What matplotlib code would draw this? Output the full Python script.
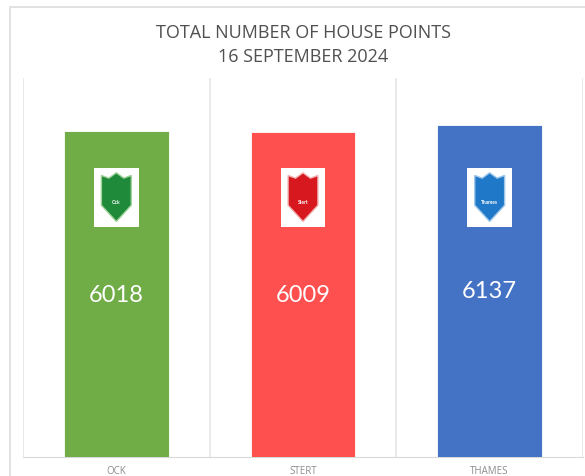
import matplotlib
matplotlib.use('Agg')
import matplotlib.pyplot as plt
from matplotlib.patches import Rectangle, Polygon

houses = ['OCK', 'STERT', 'THAMES']
points = [6018, 6009, 6137]
bar_colors = ['#70AD47', '#FF5050', '#4472C4']
badge_colors = ['#1e8a3a', '#d7191f', '#1f78c8']
badge_edges = ['#9fd39a', '#f2b3b3', '#9cc7ea']
badge_names = ['Ock', 'Stert', 'Thames']

plt.rcParams['font.family'] = ['Lato', 'DejaVu Sans']

fig = plt.figure(figsize=(5.85, 4.77), dpi=100)
ax = fig.add_axes([23 / 585, 19 / 477, 560 / 585, 379 / 477])

x = list(range(len(houses)))
ax.bar(x, points, width=0.56, color=bar_colors, edgecolor='white',
       linewidth=0.6, zorder=3)

ax.set_xlim(-0.5, 2.5)
ax.set_ylim(0, 7000)

# category separators like the Excel gridlines
for b in [-0.5, 0.5, 1.5, 2.5]:
    ax.axvline(b, color='#e6e6e6', linewidth=1.2, zorder=1)

for i, v in enumerate(points):
    ax.text(i, v / 2, str(v), ha='center', va='center', color='white',
            fontsize=17, zorder=5)
    # simple badge in place of the house logo
    ax.add_patch(Rectangle((i - 0.12, 4250), 0.24, 1080, facecolor='white',
                           edgecolor='none', zorder=4))
    shield = [(i - 0.08, 5200), (i - 0.04, 5150), (i, 5250), (i + 0.04, 5150),
              (i + 0.08, 5200), (i + 0.08, 4650), (i, 4350), (i - 0.08, 4650)]
    ax.add_patch(Polygon(shield, closed=True, facecolor=badge_colors[i],
                         edgecolor=badge_edges[i], linewidth=1, zorder=5))
    ax.text(i, 4720, badge_names[i], ha='center', va='center', color='white',
            fontsize=3.5, fontweight='bold', zorder=6)

ax.set_xticks(x)
ax.set_xticklabels(houses, color='#8c8c8c', fontsize=7, family='Open Sans')
ax.tick_params(axis='x', length=0, pad=6)
ax.set_yticks([])
for side in ['top', 'left', 'right']:
    ax.spines[side].set_visible(False)
ax.spines['bottom'].set_color('#d9d9d9')

fig.text(303 / 585, 1 - 33 / 477, 'TOTAL NUMBER OF HOUSE POINTS',
         ha='center', va='center', color='#505050', fontsize=13,
         family='Open Sans')
fig.text(303 / 585, 1 - 57 / 477, '16 SEPTEMBER 2024',
         ha='center', va='center', color='#505050', fontsize=13,
         family='Open Sans')

# outer chart frame
fig.patches.append(Rectangle((10 / 585, -0.05), 1.0, 1 - 8 / 477 + 0.05,
                             transform=fig.transFigure, fill=False,
                             edgecolor='#dcdcdc', linewidth=1.2))

fig.savefig('out.png', dpi=100)
